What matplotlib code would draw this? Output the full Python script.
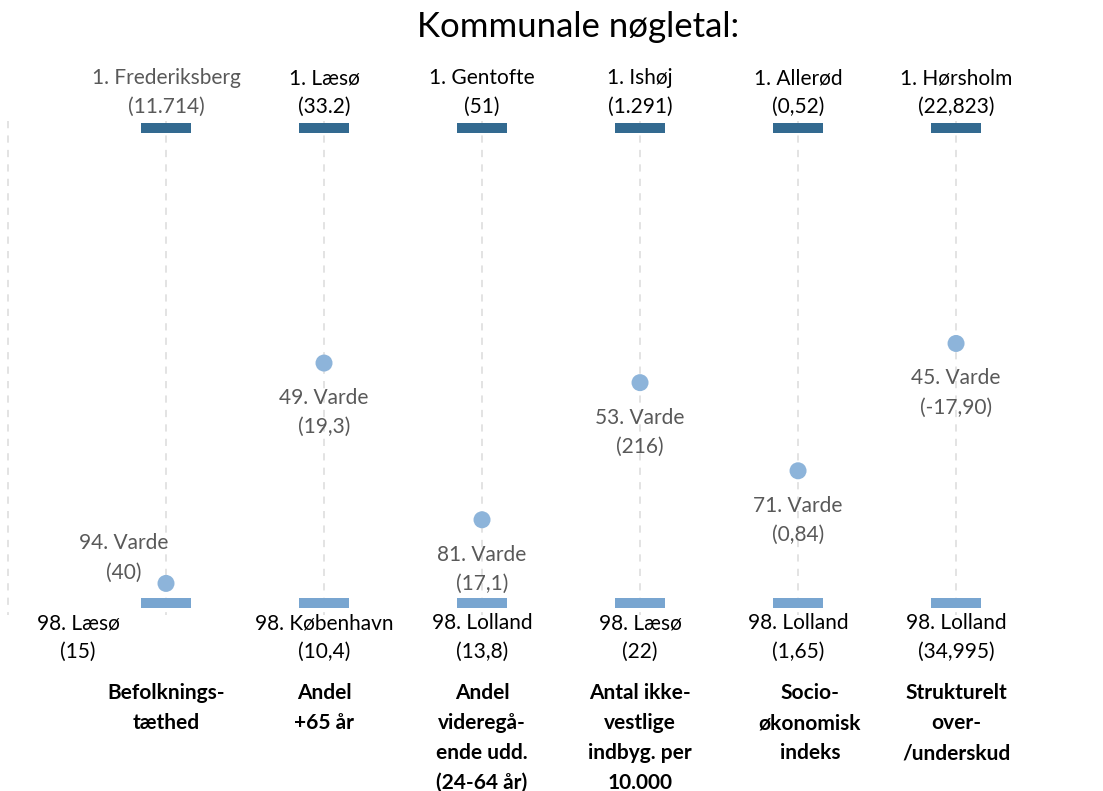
import numpy as np
import matplotlib
matplotlib.use("Agg")
import matplotlib.pyplot as plt

# data
categories = ["Befolknings-\ntæthed", "Andel\n+65 år", "Andel\nvideregå-\nende udd.\n(24-64 år)",
              "Antal ikke-\nvestlige\nindbyg. per\n10.000", "Socio-\nøkonomisk\nindeks",
              "Strukturelt\nover-\n/underskud"]
top_names = ["1. Frederiksberg", "1. Læsø", "1. Gentofte", "1. Ishøj", "1. Allerød", "1. Hørsholm"]
top_values = ["(11.714)", "(33.2)", "(51)", "(1.291)", "(0,52)", "(22,823)"]
bottom_names = ["98. Læsø", "98. København", "98. Lolland", "98. Læsø", "98. Lolland", "98. Lolland"]
bottom_values = ["(15)", "(10,4)", "(13,8)", "(22)", "(1,65)", "(34,995)"]
varde_rank = [94, 49, 81, 53, 71, 45]
varde_values = ["(40)", "(19,3)", "(17,1)", "(216)", "(0,84)", "(-17,90)"]
n_first, n_last = 1, 98

fam = ["Lato", "DejaVu Sans"]
dark = "#336a90"
light = "#78a5d0"
dot = "#8db4da"
grey = "#595959"

fig = plt.figure(figsize=(11.03, 7.91), dpi=100)
ax = fig.add_axes([0, 0, 1, 1])
ax.set_xlim(-1.0506, 5.930)
ax.set_ylim(136.39, -25.14)
ax.axis("off")

xs = np.arange(len(categories))

# dashed guide lines
for x in np.arange(-1, len(categories)):
    ax.plot([x, x], [-0.5, 100.5], ls=(0, (4, 4)), color="#e0e0e0", lw=1.3, zorder=1)

ax.bar(xs, 2.1, bottom=n_first - 1.05, width=0.32, color=dark, zorder=3)
ax.bar(xs, 2.1, bottom=n_last - 1.05, width=0.32, color=light, zorder=3)
ax.scatter(xs, varde_rank, s=150, color=dot, zorder=4, edgecolors="none")

def lab(x, y, s, dx, dy, color="black", **kw):
    ax.annotate(s, (x, y), xytext=(dx, dy), textcoords="offset pixels",
                ha="center", va="center", fontsize=15, color=color, family=fam, **kw)

for i, x in enumerate(xs):
    c = grey if i == 0 else "black"
    lab(x, n_first, top_names[i], 0, 50, c)
    lab(x, n_first, top_values[i], 0, 21, c)

    if i == 0:
        dx, dy1, dy2 = -42, 40, 11
    else:
        dx, dy1, dy2 = 0, -35, -64
    lab(x, varde_rank[i], f"{varde_rank[i]}. Varde", dx, dy1, grey)
    lab(x, varde_rank[i], varde_values[i], dx, dy2, grey)

    bdx = -88 if i == 0 else 0
    lab(x, n_last, bottom_names[i], bdx, -20)
    lab(x, n_last, bottom_values[i], bdx, -49)

    cdx = 12 if i == 4 else 0
    for k, line in enumerate(categories[i].split("\n")):
        ax.annotate(line, (x, n_last), xytext=(cdx, -90 - 30 * k), textcoords="offset pixels",
                    ha="center", va="center", fontsize=15, fontweight="bold", family=fam)

fig.text(0.524, 0.966, "Kommunale nøgletal:", ha="center", va="center", fontsize=25, family=fam)

fig.savefig("out.png", dpi=100)
